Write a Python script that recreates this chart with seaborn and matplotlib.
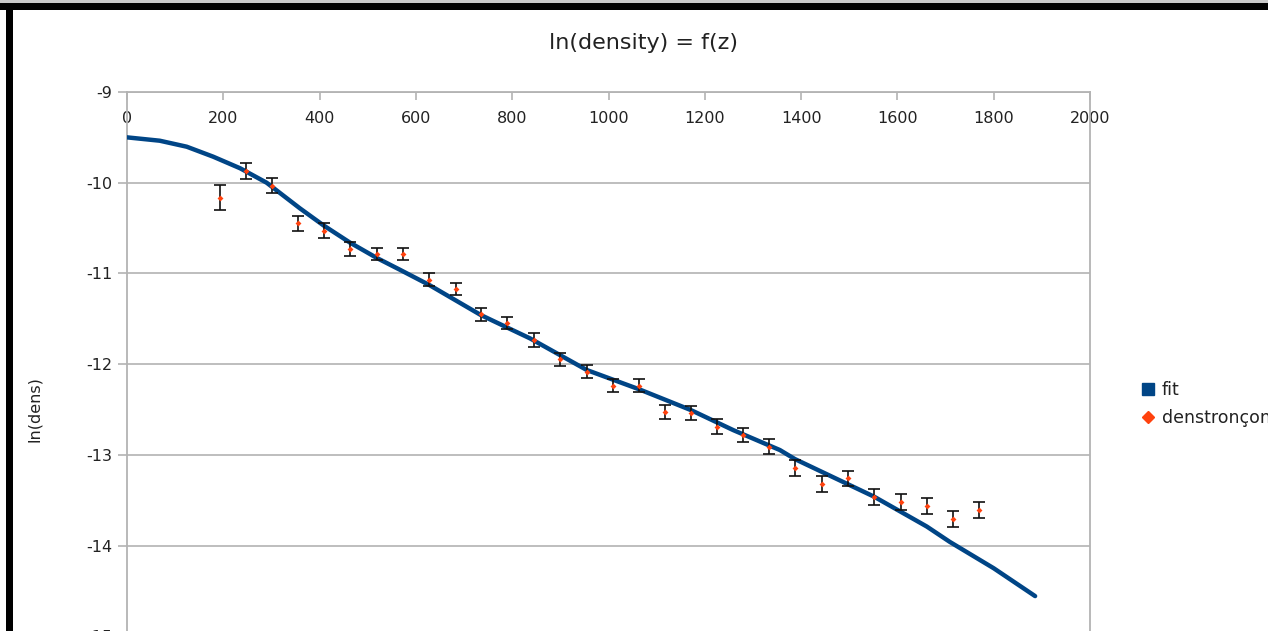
import matplotlib
matplotlib.use("Agg")
import matplotlib.pyplot as plt
import seaborn as sns
import pandas as pd
from matplotlib.lines import Line2D
from matplotlib.patches import Rectangle

# ---- data ----
z_points = [193, 248, 302, 356, 410, 464, 519, 574, 628, 683, 736, 790, 845, 899, 955,
            1010, 1064, 1117, 1171, 1226, 1279, 1333, 1387, 1443, 1498, 1552, 1607, 1661, 1716, 1770]
lnd_points = [-10.165, -9.871, -10.033, -10.448, -10.529, -10.731, -10.786, -10.786, -11.07, -11.172,
              -11.451, -11.544, -11.734, -11.947, -12.084, -12.238, -12.238, -12.525, -12.543, -12.69,
              -12.78, -12.91, -13.142, -13.322, -13.26, -13.462, -13.52, -13.564, -13.711, -13.609]
lnd_err = [0.136, 0.085, 0.084, 0.084, 0.083, 0.079, 0.064, 0.064, 0.073, 0.069,
           0.068, 0.066, 0.072, 0.074, 0.070, 0.074, 0.074, 0.079, 0.077, 0.080,
           0.080, 0.080, 0.087, 0.090, 0.084, 0.088, 0.088, 0.087, 0.088, 0.084]

z_fit = [0, 68, 124, 179, 235, 290, 359, 408, 463, 519, 567, 628, 735, 837, 955,
         1064, 1171, 1259, 1356, 1387, 1552, 1661, 1709, 1800, 1886]
lnd_fit = [-9.50, -9.537, -9.603, -9.713, -9.841, -10.0, -10.282, -10.47, -10.66, -10.83,
           -10.96, -11.128, -11.459, -11.716, -12.065, -12.278, -12.506, -12.727, -12.947, -13.046,
           -13.462, -13.79, -13.96, -14.25, -14.557]

x_ticks = [0, 200, 400, 600, 800, 1000, 1200, 1400, 1600, 1800, 2000]
y_ticks = [-9, -10, -11, -12, -13, -14, -15, -16]

title = "ln(density) = f(z)"
ylabel = "ln(dens)"
legend_labels = ["fit", "denstronçons"]

FIT_COLOR = "#004586"
PT_COLOR = "#ff420e"
GRID = "#b3b3b3"
TXT = "#222222"

sns.set_theme(style="white")
plt.rcParams["font.family"] = ["DejaVu Sans"]
plt.rcParams["axes.unicode_minus"] = False

W, H = 1268, 631
fig = plt.figure(figsize=(W / 100, H / 100), dpi=100)
fig.patch.set_facecolor("white")

top_px, bot_px = 92, 727
left_px, right_px = 127, 1090
ax = fig.add_axes([left_px / W, 1 - bot_px / H, (right_px - left_px) / W, (bot_px - top_px) / H])

df_fit = pd.DataFrame({"z": z_fit, "lnd": lnd_fit})
df_pts = pd.DataFrame({"z": z_points, "lnd": lnd_points, "err": lnd_err})

sns.lineplot(data=df_fit, x="z", y="lnd", ax=ax, color=FIT_COLOR, lw=3.2, zorder=3,
             sort=True, estimator=None)
ax.errorbar(df_pts["z"], df_pts["lnd"], yerr=df_pts["err"], fmt="none", ecolor="#111111",
            elinewidth=1.2, capsize=4.5, capthick=1.2, zorder=4)
sns.scatterplot(data=df_pts, x="z", y="lnd", ax=ax, marker="D", s=9, color=PT_COLOR,
                edgecolor=PT_COLOR, linewidth=0, zorder=5)

ax.set_xlim(0, 2000)
ax.set_ylim(-16, -9)
ax.set_xticks(x_ticks)
ax.set_yticks(y_ticks)
ax.set_xticklabels([str(v) for v in x_ticks])
ax.set_yticklabels([str(v) for v in y_ticks])
ax.set_xlabel("")
ax.set_ylabel(ylabel, fontsize=11.5, color=TXT)
ax.yaxis.set_label_coords((42 - left_px) / (right_px - left_px), 0.5)

ax.spines["bottom"].set_position(("data", -9))
ax.spines["top"].set_visible(False)
for s in ["bottom", "left", "right"]:
    ax.spines[s].set_color(GRID)
    ax.spines[s].set_linewidth(1.3)

ax.yaxis.grid(True, color=GRID, lw=1.2)
ax.xaxis.grid(False)
ax.set_axisbelow(True)

ax.tick_params(axis="x", direction="out", length=6, width=1.2, color=GRID,
               labelsize=11.5, labelcolor=TXT, pad=8, bottom=True)
ax.tick_params(axis="y", direction="out", length=6.5, width=1.2, color=GRID,
               labelsize=11.5, labelcolor=TXT, pad=4, left=True)

fig.text(644 / W, 1 - 43 / H, title, ha="center", va="center", fontsize=16, color=TXT)

handles = [Line2D([], [], marker="s", color=FIT_COLOR, linestyle="None", markersize=8),
           Line2D([], [], marker="D", color=PT_COLOR, linestyle="None", markersize=6.5)]
leg = fig.legend(handles, legend_labels, loc="upper left",
                 bbox_to_anchor=(1141 / W, 1 - 381 / H), frameon=False,
                 fontsize=12.5, handlelength=0.8, handletextpad=0.4, labelspacing=0.6,
                 borderaxespad=0, borderpad=0)
for t in leg.get_texts():
    t.set_color(TXT)

# window frame of the screenshot
fig.add_artist(Rectangle((0, 1 - 3 / H), 1, 3 / H, transform=fig.transFigure,
                         facecolor="#c8c8c8", edgecolor="none"))
fig.add_artist(Rectangle((0, 1 - 10 / H), 1, 7 / H, transform=fig.transFigure,
                         facecolor="black", edgecolor="none"))
fig.add_artist(Rectangle((6 / W, 0), 7 / W, 1 - 3 / H, transform=fig.transFigure,
                         facecolor="black", edgecolor="none"))

fig.savefig("out.png", dpi=100)
